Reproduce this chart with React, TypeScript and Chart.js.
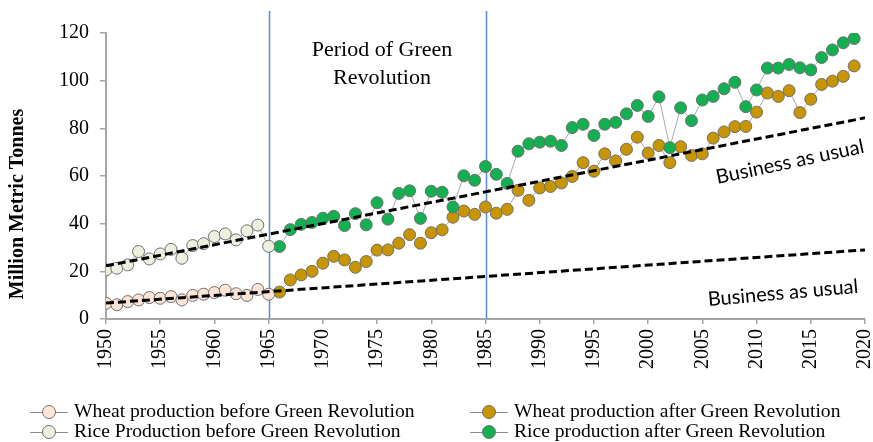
import React, { useEffect, useRef } from 'react';
import { Chart, registerables } from 'chart.js';

Chart.register(...registerables);

// ---------- data ----------
const yearsBefore = [1950, 1951, 1952, 1953, 1954, 1955, 1956, 1957, 1958, 1959, 1960, 1961, 1962, 1963, 1964, 1965];
const wheatBefore = [6.6, 6.0, 7.3, 8.0, 9.0, 8.7, 9.4, 8.0, 9.9, 10.4, 11.1, 12.1, 10.6, 9.9, 12.4, 10.4];
const riceBefore = [20.6, 21.3, 22.7, 28.3, 25.2, 27.3, 29.2, 25.5, 30.8, 31.6, 34.6, 35.7, 33.2, 37.0, 39.4, 30.5];

const yearsAfter = [
  1966, 1967, 1968, 1969, 1970, 1971, 1972, 1973, 1974, 1975, 1976, 1977, 1978, 1979, 1980, 1981, 1982, 1983,
  1984, 1985, 1986, 1987, 1988, 1989, 1990, 1991, 1992, 1993, 1994, 1995, 1996, 1997, 1998, 1999, 2000, 2001,
  2002, 2003, 2004, 2005, 2006, 2007, 2008, 2009, 2010, 2011, 2012, 2013, 2014, 2015, 2016, 2017, 2018, 2019,
];
const wheatAfter = [
  11.3, 16.4, 18.5, 20.0, 23.4, 26.3, 24.8, 21.7, 24.1, 28.9, 29.0, 31.8, 35.4, 31.8, 36.2, 37.4, 42.7, 45.3,
  43.9, 47.0, 44.4, 46.0, 54.0, 49.8, 55.0, 55.6, 57.1, 59.8, 65.6, 62.0, 69.3, 66.3, 71.2, 76.3, 69.6, 72.8,
  65.6, 72.3, 68.6, 69.3, 75.9, 78.5, 80.7, 80.8, 86.8, 94.8, 93.4, 95.8, 86.6, 92.2, 98.4, 99.8, 101.8, 106.2,
];
const riceAfter = [
  30.4, 37.5, 39.7, 40.5, 42.3, 43.1, 39.2, 44.2, 39.5, 48.8, 41.9, 52.7, 53.8, 42.2, 53.6, 53.2, 47.0, 60.1,
  58.2, 64.0, 60.7, 56.9, 70.4, 73.5, 74.2, 74.6, 72.8, 80.3, 81.7, 77.0, 81.7, 82.5, 86.1, 89.6, 85.0, 93.2,
  71.9, 88.6, 83.2, 91.9, 93.4, 96.6, 99.3, 89.1, 96.1, 105.3, 105.3, 106.8, 105.4, 104.5, 109.7, 112.9, 115.9, 117.7,
];

const trendYears = [1950, 2020];
const riceTrend = [22.3, 84.4];
const wheatTrend = [6.7, 29.0];

const markerYears = [1965, 1985];

const xTickMin = 1950;
const xTickMax = 2020;
const yTickMin = 0;
const yTickMax = 120;

const legendLabels = [
  'Wheat production before Green Revolution',
  'Wheat production after Green Revolution',
  'Rice Production before Green Revolution',
  'Rice production after Green Revolution',
];

// ---------- styles ----------
const SERIF = '"Liberation Serif", "Times New Roman", serif';
const C_WHEAT_BEFORE = '#fce4d6';
const C_RICE_BEFORE = '#ebf1de';
const C_WHEAT_AFTER = '#c69500';
const C_RICE_AFTER = '#12b050';
const C_MARK_BORDER = '#6f6f6f';
const C_CONNECT = '#8c8c8c';
const C_AXIS = '#a6a6a6';
const C_VLINE = '#5b8bd0';

const toXY = (xs: number[], ys: number[]) => xs.map((x, i) => ({ x, y: ys[i] }));

function pointSeries(label: string, xs: number[], ys: number[], fill: string, order: number) {
  return {
    label,
    data: toXY(xs, ys),
    borderColor: C_CONNECT,
    borderWidth: 0.75,
    backgroundColor: fill,
    pointBackgroundColor: fill,
    pointBorderColor: C_MARK_BORDER,
    pointBorderWidth: 1,
    pointRadius: 6,
    pointHoverRadius: 6,
    tension: 0,
    order,
  };
}

function trendSeries(label: string, ys: number[]) {
  return {
    label,
    data: toXY(trendYears, ys),
    borderColor: '#000000',
    borderWidth: 3,
    borderDash: [8, 4],
    pointRadius: 0,
    pointHoverRadius: 0,
    tension: 0,
    order: 0,
  };
}

const annotationPlugin = {
  id: 'annotations',
  beforeDatasetsDraw(chart: any) {
    const { ctx, chartArea, scales } = chart;
    ctx.save();
    ctx.strokeStyle = C_VLINE;
    ctx.lineWidth = 1.5;
    markerYears.forEach((yr) => {
      const x = Math.round(scales.x.getPixelForValue(yr)) + 0.5;
      ctx.beginPath();
      ctx.moveTo(x, chartArea.top - 22);
      ctx.lineTo(x, chartArea.bottom);
      ctx.stroke();
    });
    ctx.restore();
  },
  afterDraw(chart: any) {
    const { ctx } = chart;
    ctx.save();

    // y-axis title
    ctx.save();
    ctx.translate(18, 204);
    ctx.rotate(-Math.PI / 2);
    ctx.font = `bold 20px ${SERIF}`;
    ctx.fillStyle = '#000';
    ctx.textAlign = 'center';
    ctx.textBaseline = 'middle';
    ctx.fillText('Million Metric Tonnes', 0, 0);
    ctx.restore();

    // Period of Green Revolution
    ctx.font = `22px ${SERIF}`;
    ctx.fillStyle = '#000';
    ctx.textAlign = 'center';
    ctx.textBaseline = 'middle';
    ctx.fillText('Period of Green', 382, 50);
    ctx.fillText('Revolution', 382, 78);

    // Business as usual labels
    const bau = (x: number, y: number, deg: number) => {
      ctx.save();
      ctx.translate(x, y);
      ctx.rotate((deg * Math.PI) / 180);
      ctx.font = '20px Lato, "Open Sans", sans-serif';
      ctx.fillStyle = '#000';
      ctx.textAlign = 'center';
      ctx.textBaseline = 'middle';
      ctx.fillText('Business as usual', 0, 0);
      ctx.restore();
    };
    bau(790, 162, -12);
    bau(783, 293, -5);

    // legend
    const items = [
      { label: legendLabels[0], fill: C_WHEAT_BEFORE, x: 30, y: 412 },
      { label: legendLabels[1], fill: C_WHEAT_AFTER, x: 470, y: 412 },
      { label: legendLabels[2], fill: C_RICE_BEFORE, x: 30, y: 432 },
      { label: legendLabels[3], fill: C_RICE_AFTER, x: 470, y: 432 },
    ];
    items.forEach((it) => {
      ctx.strokeStyle = C_CONNECT;
      ctx.lineWidth = 1;
      ctx.beginPath();
      ctx.moveTo(it.x, it.y + 0.5);
      ctx.lineTo(it.x + 38, it.y + 0.5);
      ctx.stroke();
      ctx.beginPath();
      ctx.arc(it.x + 19, it.y, 6.5, 0, Math.PI * 2);
      ctx.fillStyle = it.fill;
      ctx.fill();
      ctx.strokeStyle = C_MARK_BORDER;
      ctx.stroke();
      ctx.font = `19.6px ${SERIF}`;
      ctx.fillStyle = '#000';
      ctx.textAlign = 'left';
      ctx.textBaseline = 'middle';
      ctx.fillText(it.label, it.x + 44, it.y);
    });

    ctx.restore();
  },
};

export default function App() {
  const canvasRef = useRef<HTMLCanvasElement>(null);

  useEffect(() => {
    document.body.style.margin = '0';
    const canvas = canvasRef.current;
    if (!canvas) return;

    const chart = new Chart(canvas, {
      type: 'line',
      data: {
        datasets: [
          trendSeries('Rice trend', riceTrend),
          trendSeries('Wheat trend', wheatTrend),
          pointSeries(legendLabels[2], yearsBefore, riceBefore, C_RICE_BEFORE, 1),
          pointSeries(legendLabels[3], yearsAfter, riceAfter, C_RICE_AFTER, 1),
          pointSeries(legendLabels[0], yearsBefore, wheatBefore, C_WHEAT_BEFORE, 2),
          pointSeries(legendLabels[1], yearsAfter, wheatAfter, C_WHEAT_AFTER, 2),
        ] as any,
      },
      options: {
        responsive: false,
        animation: false,
        devicePixelRatio: 1,
        layout: { padding: { top: 33, right: 8, left: 0, bottom: 0 } },
        plugins: {
          legend: { display: false },
          tooltip: { enabled: false },
        },
        scales: {
          x: {
            type: 'linear',
            min: xTickMin,
            max: xTickMax,
            ticks: {
              stepSize: 5,
              minRotation: 90,
              maxRotation: 90,
              padding: 5,
              color: '#000',
              font: { family: SERIF, size: 20 },
              callback: (v: any) => String(v),
            },
            grid: { drawOnChartArea: false, color: C_AXIS, tickLength: 5, lineWidth: 1.5 },
            border: { color: C_AXIS, width: 2 },
            afterFit: (s: any) => {
              s.height = 123;
              s.paddingLeft = 0;
              s.paddingRight = 0;
            },
          },
          y: {
            min: yTickMin,
            max: yTickMax,
            ticks: {
              stepSize: 20,
              padding: 11,
              color: '#000',
              font: { family: SERIF, size: 20 },
            },
            grid: { drawOnChartArea: false, color: C_AXIS, tickLength: 6, lineWidth: 1.5 },
            border: { color: C_AXIS, width: 2 },
            afterFit: (s: any) => {
              s.width = 106;
              s.paddingTop = 0;
              s.paddingBottom = 0;
            },
          },
        },
      } as any,
      plugins: [annotationPlugin],
    });

    return () => chart.destroy();
  }, []);

  return (
    <div style={{ width: 873, height: 442 }}>
      <canvas ref={canvasRef} width={873} height={442} style={{ display: 'block' }} />
    </div>
  );
}
